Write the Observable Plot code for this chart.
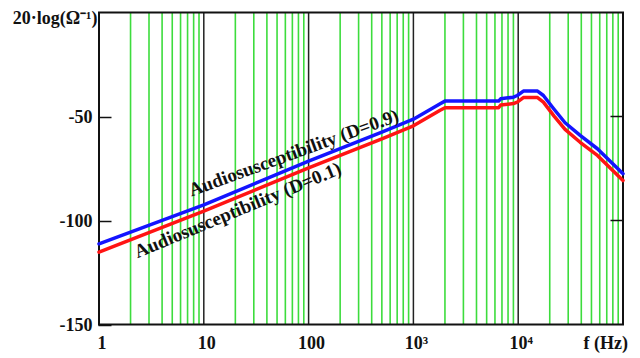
<!DOCTYPE html>
<html>
<head>
<meta charset="utf-8">
<script src="https://cdn.jsdelivr.net/npm/d3@7"></script>
<script src="https://cdn.jsdelivr.net/npm/@observablehq/plot@0.6"></script>
<style>
html, body { margin: 0; padding: 0; background: #fff; }
svg { display: block; }
</style>
</head>
<body>
<div id="chart"></div>
<script>
// Series: Audiosusceptibility, D = 0.9 (blue)
const freqBlue = [1, 10, 100, 500, 1000, 1800, 2000, 6500, 6800, 9000, 9800, 11200, 15300, 17400, 22000, 28000, 39000, 57000, 100000];
const dbBlue   = [-111.2, -92.5, -71.5, -57.5, -51.3, -43.9, -42.6, -42.6, -41.5, -40.7, -39.9, -37.8, -37.8, -39.9, -46.5, -53.0, -59.1, -65.5, -77.5];
// Series: Audiosusceptibility, D = 0.1 (red)
const freqRed  = [1, 10, 100, 500, 1000, 1800, 2000, 6500, 6800, 9000, 9800, 11200, 15300, 17400, 22000, 28000, 39000, 57000, 100000];
const dbRed    = [-115.2, -95.5, -74.7, -60.7, -54.5, -47.0, -45.8, -45.8, -44.5, -43.8, -43.1, -40.9, -40.9, -43.1, -49.8, -56.2, -62.4, -68.7, -80.8];

const seriesNames = ["Audiosusceptibility (D=0.9)", "Audiosusceptibility (D=0.1)"];
const labelFreq  = [72, 21.1];
const labelDb    = [-67.5, -95.0];
const labelAngle = [-20, -22.5];

// Axes
const xTicks = [1, 10, 100, 1000, 10000];
const xTickLabels = ["1", "10", "100", "10³", "10⁴"];
const yTicks = [-50, -100, -150];
const yTitle = "20·log(Ω⁻¹)";
const xTitle = "f (Hz)";

// Grid
const decadeLines = [10, 100, 1000, 10000];
const minorMultipliers = [2, 3, 4, 5, 6, 7, 8, 9];
const decadeStarts = [1, 10, 100, 1000, 10000];
const minorLines = decadeStarts.flatMap(d => minorMultipliers.map(m => m * d));

const blue = freqBlue.map((f, i) => ({f, db: dbBlue[i]}));
const red = freqRed.map((f, i) => ({f, db: dbRed[i]}));
const labels = seriesNames.map((t, i) => ({t, f: labelFreq[i], db: labelDb[i], a: labelAngle[i]}));

const chart = Plot.plot({
  width: 640,
  height: 358,
  marginTop: 12,
  marginBottom: 34,
  marginLeft: 98.5,
  marginRight: 17.5,
  style: {fontFamily: "'Liberation Serif', 'Times New Roman', serif", fontWeight: "bold", fontSize: "18px", background: "#fff", color: "#111"},
  x: {type: "log", domain: [1, 100000], label: null},
  y: {domain: [-150, 0], label: null},
  marks: [
    Plot.ruleX(minorLines, {stroke: "#3ddc3d", strokeWidth: 1.6}),
    Plot.ruleX(decadeLines, {stroke: "#222", strokeWidth: 1.5}),
    Plot.frame({stroke: "#111", strokeWidth: 2}),
    Plot.axisY(yTicks, {anchor: "left", tickSize: -13, tickPadding: 19.5, strokeWidth: 1.5, tickFormat: d => `${d}`, dy: 1, label: null}),
    Plot.axisY(yTicks.slice(0, 2), {anchor: "right", tickSize: -13, strokeWidth: 1.5, tickFormat: () => "", label: null}),
    Plot.axisX(xTicks, {anchor: "bottom", tickSize: 0, tickPadding: 12, dx: 3, tickFormat: d => xTickLabels[xTicks.indexOf(d)], label: null}),
    Plot.text([yTitle], {frameAnchor: "top-left", dx: -1.5, dy: 6, textAnchor: "end", lineAnchor: "middle"}),
    Plot.text([xTitle], {frameAnchor: "bottom-right", dx: 5, dy: 19, textAnchor: "end", lineAnchor: "middle"}),
    Plot.line(blue, {x: "f", y: "db", stroke: "#1414ff", strokeWidth: 3.5}),
    Plot.line(red, {x: "f", y: "db", stroke: "#ff1414", strokeWidth: 3.5}),
    Plot.text(labels, {x: "f", y: "db", text: "t", rotate: "a", textAnchor: "middle", lineAnchor: "middle", fill: "#111", fontSize: 19})
  ]
});
document.getElementById("chart").appendChild(chart);
</script>
</body>
</html>
